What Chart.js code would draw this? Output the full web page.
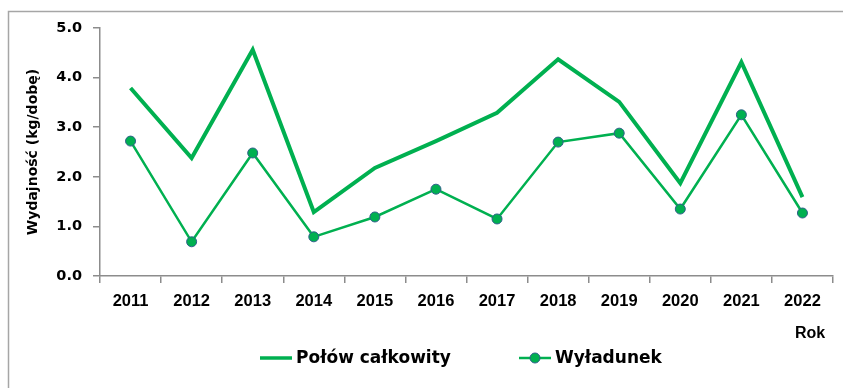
<!DOCTYPE html>
<html>
<head>
<meta charset="utf-8">
<script src="https://cdn.jsdelivr.net/npm/chart.js@4.4.1/dist/chart.umd.min.js"></script>
<style>
  html, body { margin: 0; padding: 0; background: #fff; }
  #wrap { width: 843px; height: 388px; position: relative; }
</style>
</head>
<body>
<div id="wrap"><canvas id="c" width="843" height="388"></canvas></div>
<script>
// Years on the x axis
const years = ['2011', '2012', '2013', '2014', '2015', '2016', '2017', '2018', '2019', '2020', '2021', '2022'];
// Catch per unit effort, kg per day
const polowCalkowity = [3.79, 2.38, 4.56, 1.29, 2.18, 2.72, 3.29, 4.37, 3.51, 1.87, 4.31, 1.59];
const wyladunek = [2.72, 0.69, 2.48, 0.79, 1.19, 1.75, 1.15, 2.70, 2.88, 1.35, 3.25, 1.27];
const seriesNames = ['Połów całkowity', 'Wyładunek'];
const yTitle = 'Wydajność (kg/dobę)';
const xTitle = 'Rok';

const GREEN = '#00B050';
const MARKER_EDGE = '#2F5F8A';
const AXIS = '#8C8C8C';
const FONT = "'DejaVu Sans', sans-serif";
const FONT_NARROW = "'Liberation Sans', Arial, sans-serif";

// Outer frame, the "Rok" caption and the legend row
const decorations = {
  id: 'decorations',
  beforeDraw(chart) {
    const ctx = chart.ctx;
    ctx.save();
    ctx.strokeStyle = '#A6A6A6';
    ctx.lineWidth = 1.5;
    ctx.beginPath();
    ctx.moveTo(8.5, 388);
    ctx.lineTo(8.5, 11.5);
    ctx.lineTo(843, 11.5);
    ctx.stroke();
    ctx.restore();
  },
  afterDraw(chart) {
    const ctx = chart.ctx;
    ctx.save();
    ctx.fillStyle = '#000';
    ctx.font = 'bold 16px ' + FONT_NARROW;
    ctx.textAlign = 'center';
    ctx.textBaseline = 'middle';
    ctx.fillText(xTitle, 810, 334);

    // legend
    const ly = 358;
    const items = [
      { x: 260, ds: chart.data.datasets[0] },
      { x: 519, ds: chart.data.datasets[1] }
    ];
    ctx.font = 'bold 17px ' + FONT;
    ctx.textAlign = 'left';
    items.forEach(it => {
      const ds = it.ds;
      ctx.strokeStyle = ds.borderColor;
      ctx.lineWidth = Math.min(ds.borderWidth, 3.5);
      ctx.beginPath();
      ctx.moveTo(it.x, ly);
      ctx.lineTo(it.x + 32, ly);
      ctx.stroke();
      if (ds.pointRadius > 0) {
        ctx.beginPath();
        ctx.arc(it.x + 16, ly, ds.pointRadius, 0, Math.PI * 2);
        ctx.fillStyle = ds.pointBackgroundColor;
        ctx.fill();
        ctx.lineWidth = ds.pointBorderWidth;
        ctx.strokeStyle = ds.pointBorderColor;
        ctx.stroke();
      }
      ctx.fillStyle = '#000';
      ctx.fillText(ds.label, it.x + 36, ly + 1);
    });
    ctx.restore();
  }
};

new Chart(document.getElementById('c'), {
  type: 'line',
  data: {
    labels: years,
    datasets: [
      {
        label: seriesNames[0],
        data: polowCalkowity,
        borderColor: GREEN,
        backgroundColor: GREEN,
        borderWidth: 4,
        pointRadius: 0,
        pointHoverRadius: 0,
        tension: 0,
        borderJoinStyle: 'miter'
      },
      {
        label: seriesNames[1],
        data: wyladunek,
        borderColor: GREEN,
        backgroundColor: GREEN,
        borderWidth: 2.5,
        pointRadius: 5,
        pointBackgroundColor: GREEN,
        pointBorderColor: MARKER_EDGE,
        pointBorderWidth: 1,
        tension: 0
      }
    ]
  },
  options: {
    responsive: false,
    animation: false,
    events: [],
    layout: { padding: { top: 28, right: 10, left: 0, bottom: 0 } },
    plugins: {
      legend: { display: false },
      tooltip: { enabled: false }
    },
    scales: {
      x: {
        type: 'category',
        offset: true,
        afterFit(scale) { scale.height = 112; },
        border: { display: true, color: AXIS, width: 1.5 },
        grid: {
          display: true,
          offset: true,
          drawOnChartArea: false,
          drawTicks: true,
          tickLength: 7,
          color: AXIS,
          lineWidth: 1.5
        },
        ticks: {
          color: '#000',
          font: { family: FONT_NARROW, weight: 'bold', size: 16.5 },
          padding: 9,
          maxRotation: 0,
          autoSkip: false
        }
      },
      y: {
        min: 0,
        max: 5,
        afterFit(scale) { scale.width = 100; },
        border: { display: true, color: AXIS, width: 1.5 },
        grid: {
          display: true,
          drawOnChartArea: false,
          drawTicks: true,
          tickLength: 7,
          color: AXIS,
          lineWidth: 1.5
        },
        ticks: {
          stepSize: 1,
          color: '#000',
          font: { family: FONT, weight: 'bold', size: 14.5 },
          padding: 11,
          callback: v => v.toFixed(1)
        },
        title: {
          display: true,
          text: yTitle,
          color: '#000',
          font: { family: FONT, weight: 'bold', size: 14 },
          padding: { top: 25, bottom: 0 }
        }
      }
    }
  },
  plugins: [decorations]
});
</script>
</body>
</html>
